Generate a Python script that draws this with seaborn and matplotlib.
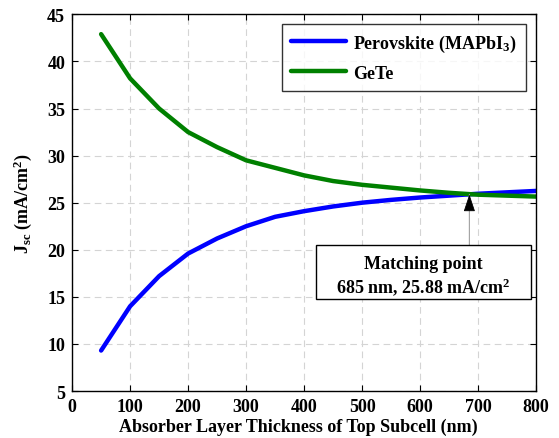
import numpy as np
import pandas as pd
import matplotlib
matplotlib.use("Agg")
import matplotlib.pyplot as plt
from matplotlib.patches import Rectangle
import seaborn as sns

thickness = [50, 100, 150, 200, 250, 300, 350, 400, 450, 500, 550, 600, 650, 700, 750, 800]
jsc_perovskite = [9.3, 14.0, 17.2, 19.6, 21.2, 22.5, 23.5, 24.1, 24.6, 25.0, 25.3, 25.55, 25.75, 25.95, 26.1, 26.25]
jsc_gete = [42.9, 38.2, 35.0, 32.5, 30.9, 29.5, 28.7, 27.9, 27.3, 26.9, 26.6, 26.3, 26.05, 25.85, 25.75, 25.65]
series_names = ["Perovskite (MAPbI$_3$)", "GeTe"]
series_colors = ["#0000ff", "#008000"]
match_x, match_y = 685, 25.88
xticks = [0, 100, 200, 300, 400, 500, 600, 700, 800]
yticks = [5, 10, 15, 20, 25, 30, 35, 40, 45]

sns.set_theme(style="white")
plt.rcParams["font.family"] = ["Liberation Serif", "DejaVu Serif"]
plt.rcParams["font.weight"] = "bold"
plt.rcParams["text.color"] = "black"
plt.rcParams["axes.labelcolor"] = "black"
plt.rcParams["xtick.color"] = "black"
plt.rcParams["ytick.color"] = "black"
plt.rcParams["mathtext.fontset"] = "custom"
plt.rcParams["mathtext.rm"] = "Liberation Serif:bold"
plt.rcParams["mathtext.bf"] = "Liberation Serif:bold"
plt.rcParams["mathtext.it"] = "Liberation Serif:bold"

FS = 13

df = pd.DataFrame({
    "x": thickness * 2,
    "y": jsc_perovskite + jsc_gete,
    "series": [series_names[0]] * len(thickness) + [series_names[1]] * len(thickness),
})

fig = plt.figure(figsize=(5.59, 4.39), dpi=100)
ax = fig.add_axes([0.129, 0.107, 0.83, 0.858])

sns.lineplot(data=df, x="x", y="y", hue="series", palette=series_colors,
             hue_order=series_names, linewidth=3.2, ax=ax, legend=True)

ax.set_xlim(0, 800)
ax.set_ylim(5, 45)
ax.set_xticks(xticks)
ax.set_yticks(yticks)
ax.grid(True, linestyle=(0, (6, 4)), color="#d4d4d4", linewidth=0.8)
for s in ax.spines.values():
    s.set_color("black")
    s.set_linewidth(1.0)
ax.tick_params(direction="in", bottom=True, left=True, top=True, right=True,
               length=4, width=0.8, labelsize=FS, colors="black")
ax.tick_params(axis="y", pad=5)
ax.tick_params(axis="x", pad=5)
for lab in ax.get_xticklabels() + ax.get_yticklabels():
    lab.set_fontweight("bold")

ax.set_xlabel("Absorber Layer Thickness of Top Subcell (nm)", fontsize=FS,
              fontweight="bold")
ax.xaxis.set_label_coords(0.488, -0.072)
ax.set_ylabel("J$_{\\mathrm{sc}}$ (mA/cm$^{2}$)", fontsize=FS, fontweight="bold")
ax.yaxis.set_label_coords(-0.082, 0.5)

leg = ax.legend(loc="upper right", bbox_to_anchor=(0.985, 0.985), fontsize=FS,
                frameon=True, fancybox=False, handlelength=3.0, borderpad=0.5,
                labelspacing=0.6, handletextpad=0.4, borderaxespad=0.2)
leg.get_frame().set_edgecolor("black")
leg.get_frame().set_linewidth(1.0)
for t in leg.get_texts():
    t.set_fontweight("bold")

# annotation box (axes-fraction placement)
bx0, bx1, by0, by1 = 0.5256, 0.989, 0.2444, 0.3878
ax.add_patch(Rectangle((bx0, by0), bx1 - bx0, by1 - by0, transform=ax.transAxes,
                       fc="white", ec="black", lw=1.0, zorder=5))
ax.text((bx0 + bx1) / 2, 0.339, "Matching point", transform=ax.transAxes,
        ha="center", va="center", fontsize=FS, fontweight="bold", zorder=6)
ax.text((bx0 + bx1) / 2, 0.278, "685 nm, 25.88 mA/cm$^{2}$", transform=ax.transAxes,
        ha="center", va="center", fontsize=FS, fontweight="bold", zorder=6)
# gray leader line from box top to matching point
ax.annotate("", xy=(match_x, match_y), xycoords="data",
            xytext=(match_x, by1), textcoords=("data", "axes fraction"),
            arrowprops=dict(arrowstyle="-", color="#a0a0a0", lw=0.8,
                            shrinkA=0, shrinkB=0), zorder=4)
# black arrow head
ax.annotate("", xy=(match_x, match_y), xycoords="data",
            xytext=(match_x, match_y - 1.5), textcoords="data",
            arrowprops=dict(arrowstyle="-|>,head_length=0.9,head_width=0.3",
                            color="black", lw=0.6, shrinkA=0, shrinkB=0), zorder=6)

fig.savefig("out.png", dpi=100)
